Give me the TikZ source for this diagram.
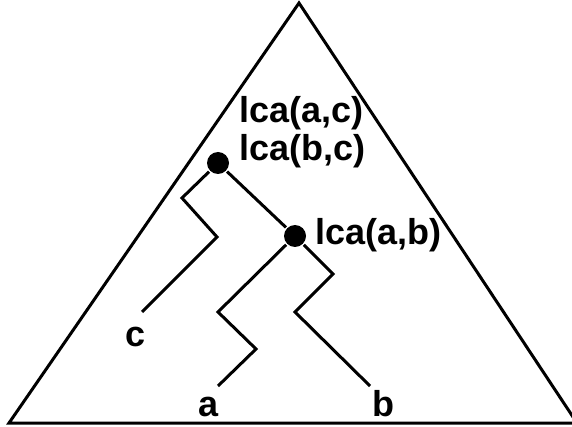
\documentclass[tikz,border=0pt]{standalone}
\usepackage{fontspec}
\setmainfont{Liberation Sans}

\begin{document}
\begin{tikzpicture}[x=1pt, y=-1pt, line width=3pt,
    dot/.style={circle, fill=black, inner sep=0pt, minimum size=22pt},
    lbl/.style={anchor=base west, inner sep=0pt, font=\bfseries\fontsize{36}{38}\selectfont}]
        \useasboundingbox (0,0) rectangle (572,427);

        \draw[line join=miter] (299,3) -- (9,423) -- (577,423) -- cycle;

        \node[dot] (bc) at (218,163) {};
        \node[dot] (ab) at (295,236) {};

        \coordinate (c1) at (182,198);
        \coordinate (c2) at (217,237);
        \coordinate (cEnd) at (142,312);
        \coordinate (a1) at (218,312);
        \coordinate (a2) at (256,349);
        \coordinate (aEnd) at (218,386);
        \coordinate (b1) at (333,274);
        \coordinate (b2) at (295,312);
        \coordinate (bEnd) at (370,386);

        \draw (bc) -- (c1) -- (c2) -- (cEnd);
        \draw (bc) -- (ab);
        \draw (ab) -- (a1) -- (a2) -- (aEnd);
        \draw (ab) -- (b1) -- (b2) -- (bEnd);

        \node[lbl] (lcaAC) at (238,123) {lca(a,c)};
        \node[lbl] (lcaBC) at (238,161) {lca(b,c)};
        \node[lbl] (lcaAB) at (314,245) {lca(a,b)};
        \node[lbl] (leafC) at (124,346) {c};
        \node[lbl] (leafA) at (197,416) {a};
        \node[lbl] (leafB) at (371,416) {b};
    \end{tikzpicture}
\end{document}
